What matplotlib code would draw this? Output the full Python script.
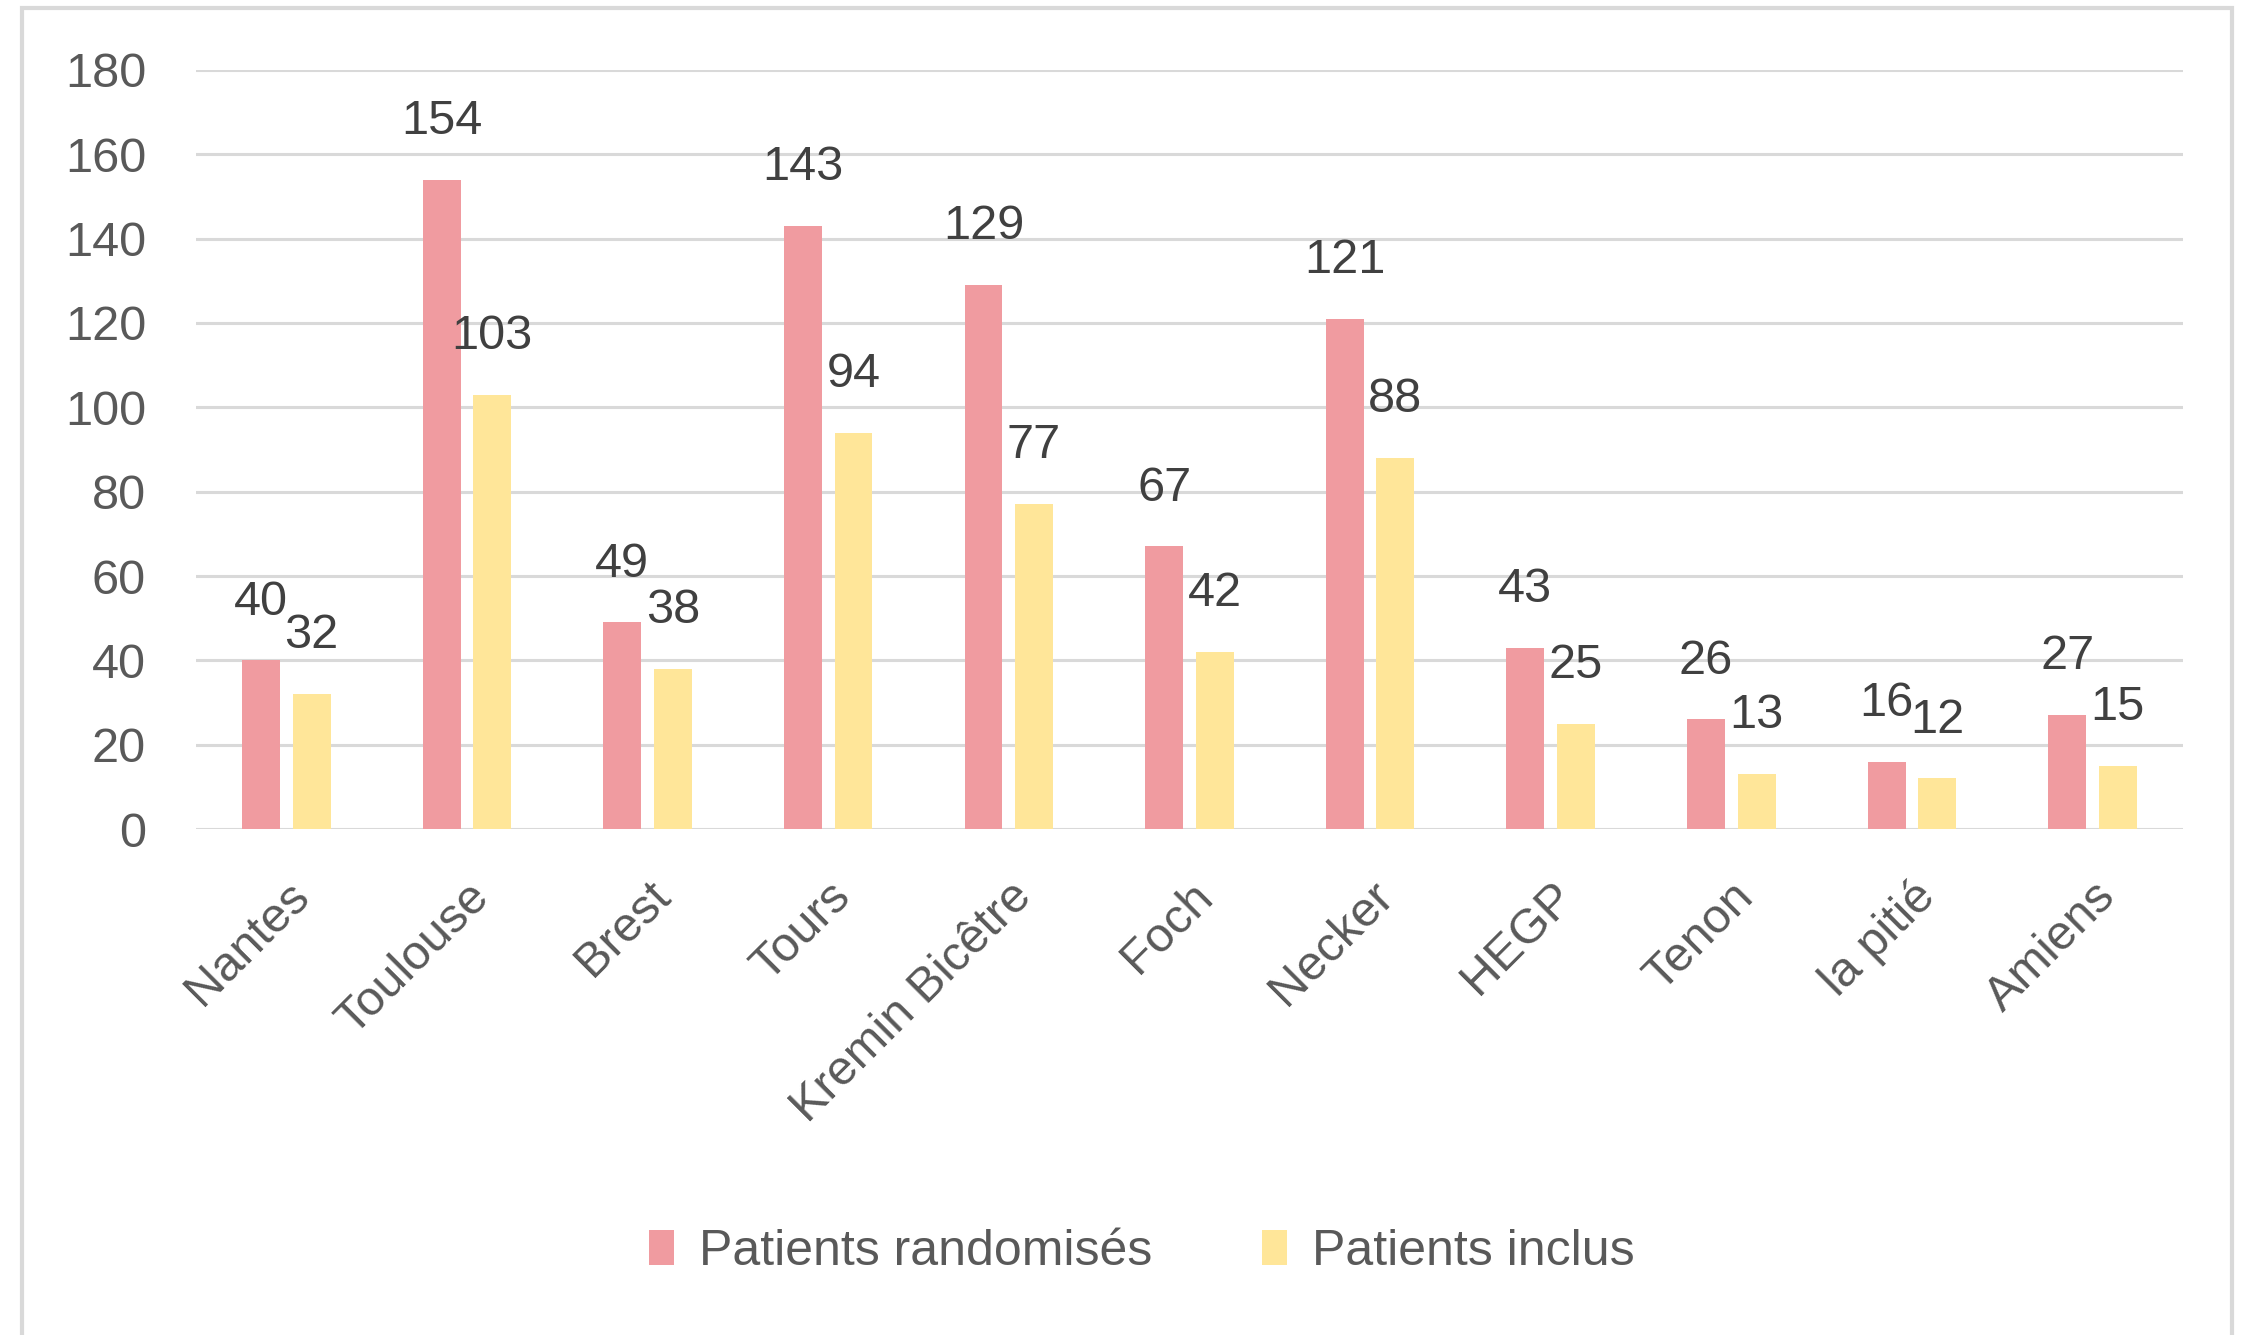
import matplotlib.pyplot as plt
import numpy as np
from matplotlib.patches import Rectangle

centres = ['Nantes', 'Toulouse', 'Brest', 'Tours', 'Kremin Bicêtre', 'Foch',
           'Necker', 'HEGP', 'Tenon', 'la pitié', 'Amiens']
randomises = [40, 154, 49, 143, 129, 67, 121, 43, 26, 16, 27]
inclus = [32, 103, 38, 94, 77, 42, 88, 25, 13, 12, 15]

couleur_rose = '#F09BA0'
couleur_jaune = '#FFE699'
gris_texte = '#595959'

plt.rcParams['font.family'] = ['Liberation Sans', 'DejaVu Sans']

fig = plt.figure(figsize=(22.48, 13.35), dpi=100)
ax = fig.add_axes([0.0872, 0.379, 0.971 - 0.0872, 0.9476 - 0.379])

# cadre gris autour du graphique
fig.patches.append(Rectangle((22 / 2248, -0.05), (2232 - 22) / 2248, 1.05 - 8 / 1335,
                             transform=fig.transFigure, fill=False,
                             edgecolor='#D9D9D9', linewidth=3))

x = np.arange(len(centres))
largeur = 0.21
decalage = 0.14

barres1 = ax.bar(x - decalage, randomises, largeur, color=couleur_rose,
                 label='Patients randomisés', zorder=3)
barres2 = ax.bar(x + decalage, inclus, largeur, color=couleur_jaune,
                 label='Patients inclus', zorder=3)

for barres in [barres1, barres2]:
    for b in barres:
        ax.annotate(str(int(b.get_height())),
                    (b.get_x() + b.get_width() / 2, b.get_height()),
                    xytext=(0, 42), textcoords='offset points',
                    ha='center', va='center', fontsize=35, color='#404040')

ax.set_ylim(0, 180)
ax.set_yticks(range(0, 181, 20))
ax.set_xlim(-0.5, len(centres) - 0.5)
ax.set_xticks(x)
ax.set_xticklabels(centres, rotation=45, ha='right', va='top',
                   rotation_mode='anchor')

ax.grid(axis='y', color='#D9D9D9', linewidth=2.2, zorder=0)
ax.set_axisbelow(True)
for s in ax.spines.values():
    s.set_visible(False)
ax.tick_params(axis='both', length=0, labelsize=35, labelcolor=gris_texte)
ax.tick_params(axis='y', pad=36)
ax.tick_params(axis='x', pad=32)

fig.legend(loc='center', bbox_to_anchor=(0.508, 1 - 1252 / 1335), ncol=2,
           frameon=False, fontsize=36, labelcolor=gris_texte,
           handlelength=0.5, handleheight=0.7, handletextpad=0.5,
           columnspacing=2.2)

fig.savefig('out.png', dpi=100, facecolor='white')
